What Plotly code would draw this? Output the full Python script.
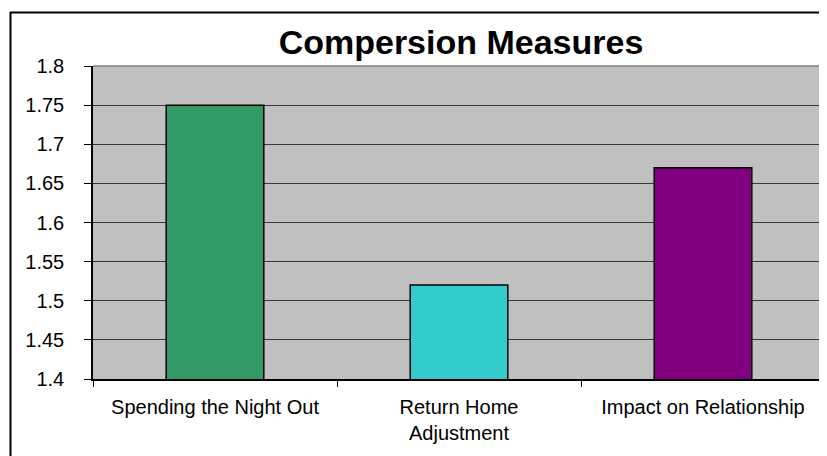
import plotly.graph_objects as go

categories = ["Spending the Night Out", "Return Home<br>Adjustment", "Impact on Relationship"]
values = [1.75, 1.52, 1.67]
bar_colors = ["#339966", "#33CCCC", "#800080"]
y_ticks = [1.4, 1.45, 1.5, 1.55, 1.6, 1.65, 1.7, 1.75, 1.8]
y_tick_labels = ["1.4", "1.45", "1.5", "1.55", "1.6", "1.65", "1.7", "1.75", "1.8"]
title_text = "Compersion Measures"

# page body adds an 8px offset; size the figure to fill the rest of the window
OFF = 8
W, H = 827 - OFF, 456 - OFF
ML, MR, MT, MB = 93 - OFF, 2, 66 - OFF, 77
pw = W - ML - MR
ph = H - MT - MB

def px_x(px):
    return (px - OFF - ML) / pw

def px_y(py):
    return (H - MB - (py - OFF)) / ph

fig = go.Figure()
fig.add_trace(go.Bar(
    x=categories, y=values,
    marker=dict(color=bar_colors, line=dict(color="black", width=1.5)),
    width=0.4,
))

font_family = "Liberation Sans, Arial, sans-serif"

fig.update_layout(
    width=W, height=H,
    margin=dict(l=ML, r=MR, t=MT, b=MB),
    paper_bgcolor="white",
    plot_bgcolor="#C0C0C0",
    showlegend=False,
    font=dict(family=font_family, size=20, color="black"),
    title=dict(text="<b>" + title_text + "</b>", font=dict(size=34, color="black", family=font_family),
               x=(461 - OFF) / W, xanchor="center", xref="container",
               y=1 - (54 - OFF) / H, yanchor="bottom", yref="container"),
    xaxis=dict(
        type="category", tickson="boundaries", ticks="outside", ticklen=6, tickcolor="black",
        showline=True, linecolor="black", linewidth=1.5, showgrid=False,
        range=[-0.5, 2.5], tickfont=dict(size=20, color="black"), ticklabelstandoff=9,
    ),
    yaxis=dict(
        range=[1.4, 1.8], tickvals=y_ticks, ticktext=y_tick_labels,
        ticks="outside", ticklen=7, tickcolor="black",
        showline=True, linecolor="black", linewidth=1.5,
        showgrid=True, gridcolor="#383838", gridwidth=1, zeroline=False,
        tickfont=dict(size=20, color="black"), ticklabelstandoff=16,
    ),
    shapes=[
        # plot area top & right border (gray)
        dict(type="line", xref="paper", yref="paper", x0=0, x1=1, y0=1, y1=1,
             line=dict(color="#808080", width=1.5), layer="below"),
        dict(type="line", xref="paper", yref="paper", x0=1, x1=1, y0=0, y1=1,
             line=dict(color="#808080", width=1.5), layer="below"),
        # outer chart border (left & top)
        dict(type="line", xref="paper", yref="paper", x0=px_x(10.5), x1=px_x(10.5), y0=px_y(12), y1=px_y(470),
             line=dict(color="black", width=2)),
        dict(type="line", xref="paper", yref="paper", x0=px_x(10), x1=px_x(840), y0=px_y(12.5), y1=px_y(12.5),
             line=dict(color="black", width=2)),
    ],
)

fig.write_html("out.html")
